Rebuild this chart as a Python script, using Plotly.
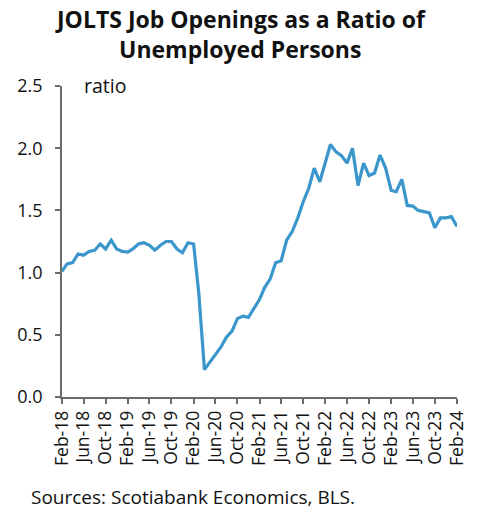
import pandas as pd
import plotly.graph_objects as go

start_month = "2018-02-01"
ratio = [
    1.01, 1.07, 1.08, 1.15, 1.14, 1.17, 1.18, 1.23, 1.19, 1.26, 1.19,
    1.17, 1.165, 1.19, 1.23, 1.24, 1.22, 1.18, 1.22, 1.25, 1.25, 1.19, 1.16,
    1.24, 1.23, 0.83, 0.22, 0.28, 0.35, 0.40, 0.48, 0.53, 0.63, 0.65, 0.64,
    0.71, 0.785, 0.88, 0.95, 1.08, 1.095, 1.26, 1.33, 1.44, 1.57, 1.68, 1.84,
    1.73, 1.88, 2.03, 1.97, 1.94, 1.88, 2.00, 1.70, 1.88, 1.78, 1.80, 1.945,
    1.84, 1.66, 1.65, 1.75, 1.54, 1.535, 1.50, 1.49, 1.48, 1.36, 1.44, 1.44,
    1.45, 1.37,
]
y_ticks = [0.0, 0.5, 1.0, 1.5, 2.0, 2.5]
title_lines = ["JOLTS Job Openings as a Ratio of", "Unemployed Persons"]
unit_label = "ratio"
source_text = "Sources: Scotiabank Economics, BLS."

months = pd.date_range(start_month, periods=len(ratio), freq="MS")
tick_dates = months[::4]
tick_labels = [d.strftime("%b-%y") for d in tick_dates]

axis_color = "#6b6b6b"
font_family = "Open Sans, Lato, sans-serif"

fig = go.Figure()
fig.add_trace(go.Scatter(
    x=months, y=ratio, mode="lines",
    line=dict(color="#3a96cb", width=3.2),
    hoverinfo="skip",
))

fig.update_layout(
    width=480, height=510,
    margin=dict(l=62, r=21, t=86, b=113),
    paper_bgcolor="white", plot_bgcolor="white",
    showlegend=False,
    font=dict(family=font_family, color="#111111"),
)

fig.update_xaxes(
    range=[months[0], months[-1]],
    tickvals=list(tick_dates), ticktext=tick_labels,
    tickangle=-90, tickfont=dict(size=17.5),
    showgrid=False, zeroline=False,
    showline=True, linecolor=axis_color, linewidth=1.5,
    ticks="outside", ticklen=5, tickcolor=axis_color, tickwidth=1.5,
)
fig.update_yaxes(
    range=[0, 2.5], tickvals=y_ticks,
    ticktext=[f"{v:.1f}" for v in y_ticks],
    tickfont=dict(size=18),
    showgrid=False, zeroline=False,
    showline=True, linecolor=axis_color, linewidth=1.5,
    ticks="outside", ticklen=5, tickcolor=axis_color, tickwidth=1.5,
    ticklabelstandoff=9,
)

for i, line in enumerate(title_lines):
    fig.add_annotation(
        text=f"<b>{line}</b>", xref="paper", yref="paper",
        x=(241 - 62) / 397, y=(397 - (19 + 30 * i)) / 311,
        xanchor="center", yanchor="middle", showarrow=False,
        font=dict(size=23, family=font_family, color="#111111"),
    )

fig.add_annotation(
    text=unit_label, xref="paper", yref="paper", x=(82 - 62) / 397, y=(397 - 85) / 311,
    xanchor="left", yanchor="middle", showarrow=False,
    font=dict(size=19.5, family=font_family),
)
fig.add_annotation(
    text=source_text, xref="paper", yref="paper", x=(29 - 62) / 397, y=(397 - 497) / 311,
    xanchor="left", yanchor="middle", showarrow=False,
    font=dict(size=19, family=font_family),
)

fig.write_html("out.html")
